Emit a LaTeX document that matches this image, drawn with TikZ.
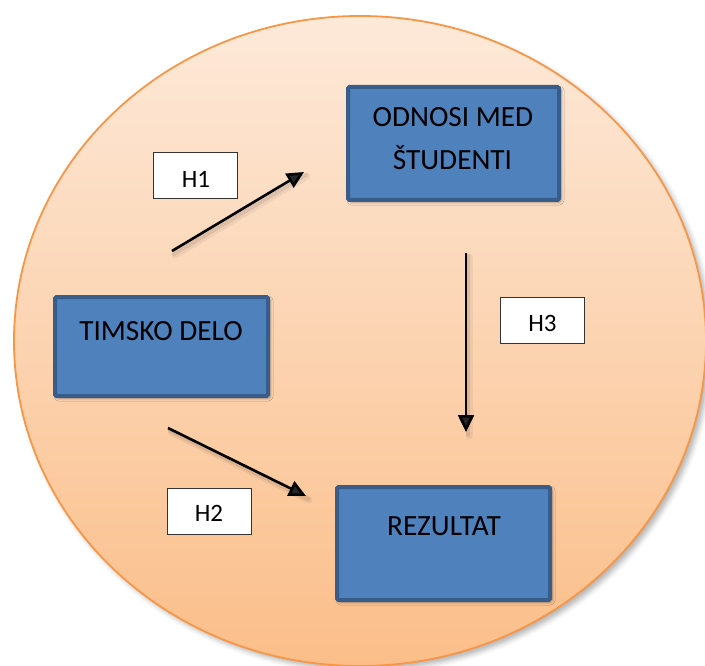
\documentclass[tikz,border=0pt]{standalone}
\usepackage{fontspec}
\setmainfont{Carlito}
\usetikzlibrary{arrows.meta,shadows.blur}
\definecolor{boxfill}{RGB}{79,129,189}
\definecolor{boxline}{RGB}{56,93,138}
\definecolor{ellline}{RGB}{247,150,70}
\definecolor{elltop}{RGB}{253,233,217}
\definecolor{ellbot}{RGB}{251,190,137}
\begin{document}
\begin{tikzpicture}[x=1pt,y=-1pt,
  bluebox/.style={draw=boxline, fill=boxfill, line width=4pt, rounded corners=1.5pt, inner sep=0pt,
    blur shadow={shadow xshift=2pt, shadow yshift=-2pt, shadow blur radius=3pt, shadow opacity=35}},
  hbox/.style={draw=black!80, fill=white, line width=0.8pt, inner sep=0pt, minimum width=84pt, minimum height=46pt},
  boxtext/.style={anchor=base, font=\fontsize{29.3}{35}\selectfont, text=black, inner sep=0pt},
  htext/.style={anchor=base, font=\fontsize{25}{30}\selectfont, text=black, inner sep=0pt},
  arr/.style={line width=2.6pt, -{Triangle[length=17pt,width=16pt]}},
  arrshadowA/.style={line width=7pt, draw=black, opacity=0.05, line cap=round},
  arrshadowB/.style={line width=4pt, draw=black, opacity=0.08, line cap=round}
]
\useasboundingbox (0,0) rectangle (705,666);
% background ellipse
\path[blur shadow={shadow xshift=4pt, shadow yshift=-4pt, shadow blur radius=5pt, shadow opacity=30},
      top color=elltop, bottom color=ellbot, draw=ellline, line width=1.8pt]
  (360,341) ellipse [x radius=346pt, y radius=325pt];

% main boxes
\node[bluebox, minimum width=211pt, minimum height=113pt] (odnosi) at (453.5,143.5) {};
\node[boxtext] (odnosiA) at (453,126.7) {ODNOSI MED};
\node[boxtext] (odnosiB) at (452.5,170) {ŠTUDENTI};

\node[bluebox, minimum width=213pt, minimum height=99pt] (timsko) at (161.5,346.5) {};
\node[boxtext] (timskoT) at (161,340) {TIMSKO DELO};

\node[bluebox, minimum width=213pt, minimum height=113pt] (rez) at (443.5,543.5) {};
\node[boxtext] (rezT) at (444,535.7) {REZULTAT};

% hypothesis labels
\node[hbox] (h1) at (195.5,175.5) {};
\node[htext] (h1T) at (196,187.7) {H1};
\node[hbox] (h2) at (209.5,511) {};
\node[htext] (h2T) at (209,521.7) {H2};
\node[hbox] (h3) at (542,320.5) {};
\node[htext] (h3T) at (542.5,331.7) {H3};

% arrows
\coordinate (a1s) at (172,251); \coordinate (a1e) at (304,172);
\coordinate (a2s) at (168,428); \coordinate (a2e) at (306,496);
\coordinate (a3s) at (466,253); \coordinate (a3e) at (466,432);
\foreach \s/\e in {a1s/a1e,a2s/a2e,a3s/a3e}{
  \draw[arrshadowA] ([shift={(3,4)}]\s) -- ([shift={(3,4)}]\e);
  \draw[arrshadowB] ([shift={(2,3)}]\s) -- ([shift={(2,3)}]\e);
}
\draw[arr] (a1s) -- (a1e);
\draw[arr] (a2s) -- (a2e);
\draw[arr] (a3s) -- (a3e);
\end{tikzpicture}
\end{document}
